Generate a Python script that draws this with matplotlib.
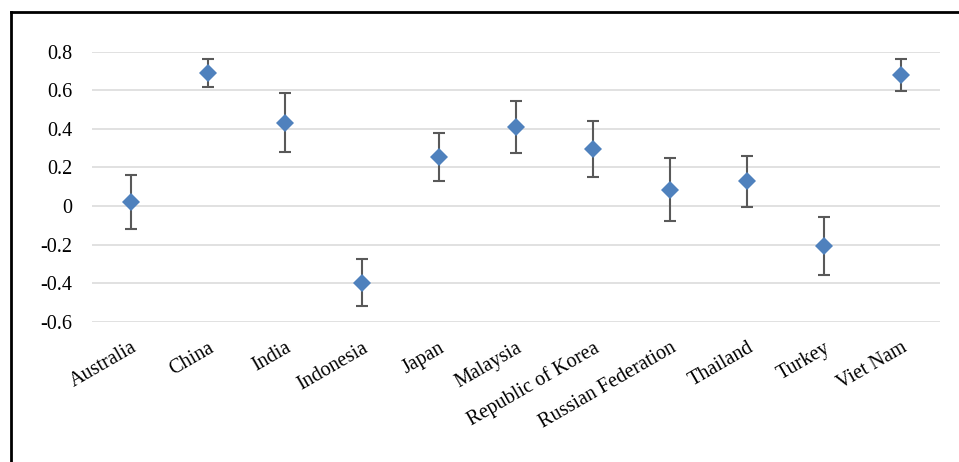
import numpy as np
import matplotlib
matplotlib.use('Agg')
import matplotlib.pyplot as plt
from matplotlib.lines import Line2D

plt.rcParams['font.family'] = ['Liberation Serif', 'DejaVu Serif']

# -----------------------------
# Data: point estimates with lower / upper bounds
# -----------------------------
countries = ['Australia', 'China', 'India', 'Indonesia', 'Japan', 'Malaysia',
             'Republic of Korea', 'Russian Federation', 'Thailand', 'Turkey',
             'Viet Nam']
estimate = [0.022, 0.687, 0.432, -0.397, 0.256, 0.409, 0.295, 0.083, 0.128, -0.207, 0.680]
upper = [0.162, 0.762, 0.587, -0.276, 0.380, 0.542, 0.439, 0.247, 0.261, -0.059, 0.763]
lower = [-0.118, 0.615, 0.278, -0.518, 0.128, 0.276, 0.152, -0.079, -0.003, -0.358, 0.594]
yticks = [-0.6, -0.4, -0.2, 0, 0.2, 0.4, 0.6, 0.8]
ytick_labels = ['-0.6', '-0.4', '-0.2', '0', '0.2', '0.4', '0.6', '0.8']

est = np.array(estimate)
err = [est - np.array(lower), np.array(upper) - est]
x = np.arange(len(countries))

# -----------------------------
# Figure and axes
# -----------------------------
fig = plt.figure(figsize=(9.59, 4.62), dpi=100)
ax = fig.add_axes([0.0959, 0.3035, 0.8843, 0.5848])

# error bars first, diamonds on top
ax.errorbar(x, est, yerr=err, fmt='none', ecolor='#595959', elinewidth=1.5,
            capsize=4, capthick=1.5, zorder=3, clip_on=False)
ax.plot(x, est, 'D', color='#4F81BD', markersize=9, markeredgewidth=0,
        zorder=4, clip_on=False)

ax.set_xlim(-0.5, len(countries) - 0.5)
ax.set_ylim(-0.6, 0.8)
ax.set_yticks(yticks)
ax.set_yticklabels(ytick_labels, fontsize=14.5)
ax.set_xticks(x)
ax.set_xticklabels(countries, fontsize=14.5, rotation=30, ha='right',
                   va='top', rotation_mode='anchor')

ax.grid(axis='y', color='#D9D9D9', linewidth=1.1)
ax.set_axisbelow(True)
ax.tick_params(axis='both', length=0)
ax.tick_params(axis='y', pad=14)
ax.tick_params(axis='x', pad=12)
for s in ax.spines.values():
    s.set_visible(False)

# frame around the chart (left and top edges visible)
fig.add_artist(Line2D([10.5 / 959, 10.5 / 959], [0, 1 - 12 / 462],
                      transform=fig.transFigure, color='black', linewidth=2))
fig.add_artist(Line2D([10.5 / 959, 1], [1 - 12 / 462, 1 - 12 / 462],
                      transform=fig.transFigure, color='black', linewidth=2))

fig.savefig('out.png', dpi=100)
